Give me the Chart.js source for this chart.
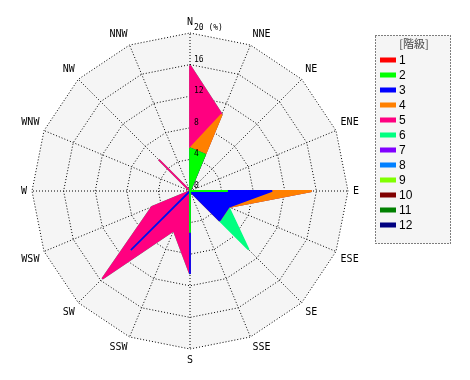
<!DOCTYPE html>
<html>
<head>
<meta charset="utf-8">
<script src="https://cdn.jsdelivr.net/npm/chart.js@4"></script>
<style>
  html, body { margin: 0; padding: 0; background: #fff; }
  #wrap { width: 470px; height: 380px; }
</style>
</head>
<body>
<div id="wrap"><canvas id="rose" width="470" height="380"></canvas></div>
<script>
const directions = ["N", "NNE", "NE", "ENE", "E", "ESE", "SE", "SSE", "S", "SSW", "SW", "WSW", "W", "WNW", "NW", "NNW"];
const classLabels = ["1", "2", "3", "4", "5", "6", "7", "8", "9", "10", "11", "12"];
const classColors = ["#ff0000", "#00ff00", "#0000ff", "#ff8000", "#ff0080", "#00ff80",
  "#8000ff", "#0080ff", "#80ff00", "#800000", "#008000", "#000080"];
const tickValues = [0, 4, 8, 12, 16, 20];

// frequency (%) per class, in direction order N .. NNW
const class1 = [0, 0, 0, 0, 0, 0, 0, 0, 0, 0, 0, 0, 0, 0, 0, 0];
const class2 = [5.4, 5.0, 0, 0, 4.8, 0, 0, 0, 5.3, 0, 0, 0, 0, 0, 0, 0];
const class3 = [0, 0, 0, 0, 5.6, 5.3, 5.3, 0, 5.2, 0, 10.6, 0, 0, 0, 0, 0];
const class4 = [0, 5.5, 0, 0, 5.0, 0, 0, 0, 0, 0, 0, 0, 0, 0, 0, 0];
const class5 = [10.5, 0, 0, 0, 0, 0, 0, 0, 0, 5.4, 5.1, 5.2, 0, 0, 5.6, 0];
const class6 = [0, 0, 0, 0, 0, 0, 5.2, 0, 0, 0, 0, 0, 0, 0, 0, 0];
const class7 = [0, 0, 0, 0, 0, 0, 0, 0, 0, 0, 0, 0, 0, 0, 0, 0];
const class8 = [0, 0, 0, 0, 0, 0, 0, 0, 0, 0, 0, 0, 0, 0, 0, 0];
const class9 = [0, 0, 0, 0, 0, 0, 0, 0, 0, 0, 0, 0, 0, 0, 0, 0];
const class10 = [0, 0, 0, 0, 0, 0, 0, 0, 0, 0, 0, 0, 0, 0, 0, 0];
const class11 = [0, 0, 0, 0, 0, 0, 0, 0, 0, 0, 0, 0, 0, 0, 0, 0];
const class12 = [0, 0, 0, 0, 0, 0, 0, 0, 0, 0, 0, 0, 0, 0, 0, 0];

const classValues = [class1, class2, class3, class4, class5, class6,
  class7, class8, class9, class10, class11, class12];

// running totals so each class polygon sits on top of the ones below it
function cumulative(upTo) {
  return directions.map((_, d) => {
    let sum = 0;
    for (let k = 0; k <= upTo; k++) sum += classValues[k][d];
    return sum;
  });
}

// empty classes get no outline, so their edges don't tint the spikes below
const datasets = classLabels.map((label, k) => ({
  label: label,
  data: cumulative(k),
  backgroundColor: classColors[k],
  borderColor: classColors[k],
  borderWidth: classValues[k].some((v) => v > 0) ? 1.8 : 0,
  borderJoinStyle: "bevel",
  pointRadius: 0,
  pointHoverRadius: 0,
  fill: "origin",
}));

const mono = "'DejaVu Sans Mono', monospace";

const tickText = {
  id: "tickText",
  afterDatasetsDraw(chart) {
    const scale = chart.scales.r;
    const ctx = chart.ctx;
    ctx.save();
    ctx.font = "8px " + mono;
    ctx.fillStyle = "#000";
    ctx.textAlign = "left";
    ctx.textBaseline = "middle";
    tickValues.forEach((v, i) => {
      const p = scale.getPointPositionForValue(0, v);
      const text = i === tickValues.length - 1 ? v + " (%)" : String(v);
      ctx.fillText(text, p.x + 4, p.y - 5);
    });
    ctx.restore();
  },
};

const boxLegend = {
  id: "boxLegend",
  afterDraw(chart) {
    const ctx = chart.ctx;
    const x = 375.5, y = 35.5, w = 75, h = 208;
    ctx.save();
    ctx.fillStyle = "#f5f5f5";
    ctx.fillRect(x, y, w, h);
    ctx.strokeStyle = "#000";
    ctx.lineWidth = 1;
    ctx.setLineDash([1, 2]);
    ctx.strokeRect(x, y, w, h);
    ctx.setLineDash([]);
    ctx.font = "11px 'Noto Sans CJK JP', sans-serif";
    ctx.fillStyle = "#444";
    ctx.textAlign = "center";
    ctx.textBaseline = "middle";
    ctx.fillText("[階級]", 414, 44);
    ctx.font = "12px 'Liberation Sans', sans-serif";
    ctx.textAlign = "left";
    classLabels.forEach((label, k) => {
      const rowY = 60 + k * 15;
      ctx.fillStyle = classColors[k];
      ctx.fillRect(380, rowY - 2.5, 16, 5);
      ctx.fillStyle = "#000";
      ctx.fillText(label, 399, rowY + 0.5);
    });
    ctx.restore();
  },
};

new Chart(document.getElementById("rose"), {
  type: "radar",
  data: { labels: directions, datasets: datasets },
  options: {
    responsive: false,
    animation: false,
    layout: { padding: { left: 15, right: 105, top: 16, bottom: 14 } },
    plugins: {
      legend: { display: false },
      tooltip: { enabled: false },
    },
    scales: {
      r: {
        min: 0,
        max: 20,
        backgroundColor: "#f5f5f5",
        ticks: { stepSize: 4, display: false },
        grid: { color: "#000", lineWidth: 1 },
        border: { dash: [1, 2] },
        angleLines: { color: "#000", lineWidth: 1, borderDash: [1, 2] },
        pointLabels: { font: { family: mono, size: 10 }, color: "#000", padding: 5 },
      },
    },
  },
  plugins: [tickText, boxLegend],
});
</script>
</body>
</html>
